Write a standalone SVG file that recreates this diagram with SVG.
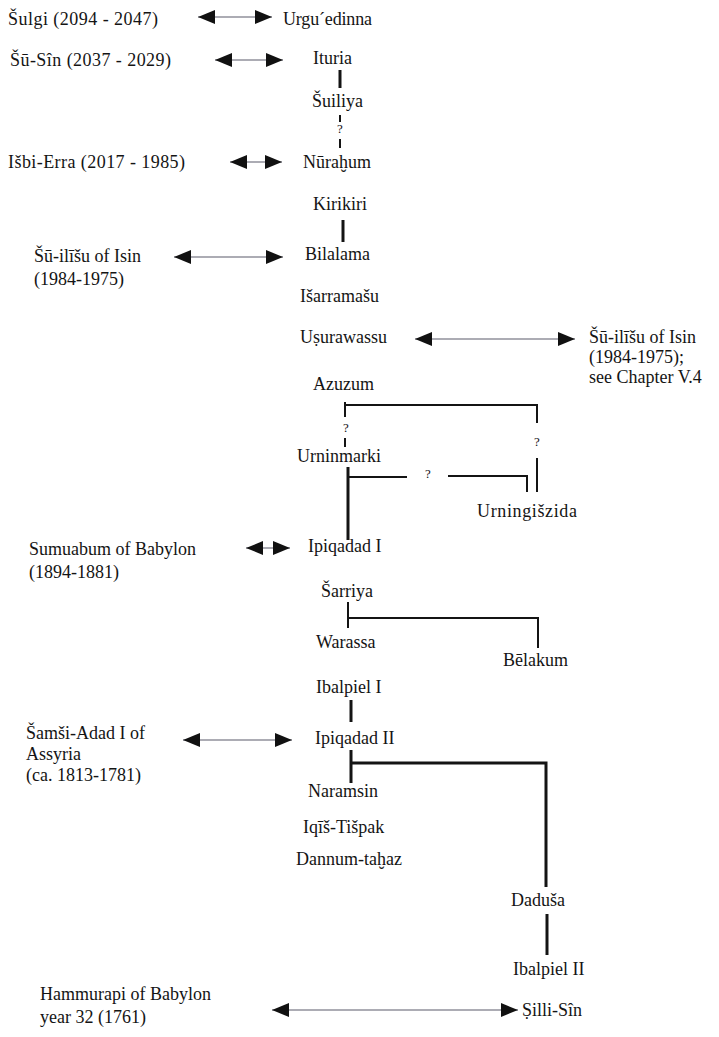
<svg xmlns="http://www.w3.org/2000/svg" width="719" height="1037" viewBox="0 0 719 1037">
<style>
text{font-family:"Liberation Serif","Times New Roman",serif;font-size:18px;fill:#141414}
.q{font-size:13px;text-anchor:middle}
.ln{stroke:#141414;fill:none}
.th{stroke-width:3}
.md{stroke-width:2}
.ar{stroke:#5a5a6a;stroke-width:1.2;fill:none;marker-start:url(#ah);marker-end:url(#ah)}
</style>
<defs>
<marker id="ah" markerUnits="userSpaceOnUse" markerWidth="18" markerHeight="14" refX="17" refY="7" orient="auto-start-reverse"><path d="M0,0 L17,7 L0,14 Z" fill="#111"/></marker>
</defs>
<rect width="719" height="1037" fill="#fff"/>
<g id="connectors">
<line class="ar" x1="198" y1="17" x2="272" y2="17"/>
<line class="ar" x1="215" y1="60" x2="283" y2="60"/>
<line class="ar" x1="230" y1="162" x2="282" y2="162"/>
<line class="ar" x1="174" y1="257" x2="283" y2="257"/>
<line class="ar" x1="415" y1="339" x2="575" y2="339"/>
<line class="ar" x1="246" y1="548" x2="290" y2="548"/>
<line class="ar" x1="183" y1="740" x2="292" y2="740"/>
<line class="ar" x1="272" y1="1010" x2="518" y2="1010"/>
<path class="ln th" d="M340,70 V88"/>
<path class="ln md" d="M340,115 V122 M340,139 V148"/>
<text class="q" x="340" y="133">?</text>
<path class="ln th" d="M343,220 V242"/>
<path class="ln md" d="M345,402 V417 M345,405 H537 V423"/>
<text class="q" x="346" y="432">?</text>
<path class="ln md" d="M345,438 V447"/>
<text class="q" x="537" y="446">?</text>
<path class="ln md" d="M537,458 V492"/>
<path class="ln th" d="M348,467 V540"/>
<path class="ln md" d="M348,477 H407 M448,476 H527 V492"/>
<text class="q" x="428" y="478">?</text>
<path class="ln md" d="M348,602 V628 M348,618 H538 V648"/>
<path class="ln th" d="M351,700 V722"/>
<path class="ln th" d="M351,750 V783 M351,763 H546 V887"/>
<path class="ln th" d="M547,914 V955"/>
</g>
<g id="n-sulgi"><text x="8" y="25" textLength="150">Šulgi (2094 - 2047)</text></g>
<g id="n-urguedinna"><text x="283" y="25" textLength="89">Urgu´edinna</text></g>
<g id="n-susin"><text x="10" y="66" textLength="161">Šū-Sîn (2037 - 2029)</text></g>
<g id="n-ituria"><text x="313" y="64">Ituria</text></g>
<g id="n-suiliya"><text x="312" y="107">Šuiliya</text></g>
<g id="n-isbierra"><text x="8" y="168" textLength="177">Išbi-Erra (2017 - 1985)</text></g>
<g id="n-nurahum"><text x="303" y="168">Nūraḫum</text></g>
<g id="n-kirikiri"><text x="313" y="210">Kirikiri</text></g>
<g id="n-bilalama"><text x="305" y="260">Bilalama</text></g>
<g id="n-suilisu1"><text x="34" y="262">Šū-ilīšu of Isin</text><text x="34" y="285">(1984-1975)</text></g>
<g id="n-isarramasu"><text x="300" y="302">Išarramašu</text></g>
<g id="n-usurawassu"><text x="300" y="343">Uṣurawassu</text></g>
<g id="n-suilisu2"><text x="589" y="343">Šū-ilīšu of Isin</text><text x="589" y="363">(1984-1975);</text><text x="589" y="383">see Chapter V.4</text></g>
<g id="n-azuzum"><text x="313" y="390">Azuzum</text></g>
<g id="n-urninmarki"><text x="297" y="462">Urninmarki</text></g>
<g id="n-urningiszida"><text x="477" y="517" textLength="100">Urningišzida</text></g>
<g id="n-ipiqadad1"><text x="308" y="552">Ipiqadad I</text></g>
<g id="n-sumuabum"><text x="29" y="555">Sumuabum of Babylon</text><text x="29" y="578">(1894-1881)</text></g>
<g id="n-sarriya"><text x="321" y="597">Šarriya</text></g>
<g id="n-warassa"><text x="316" y="648">Warassa</text></g>
<g id="n-belakum"><text x="503" y="666">Bēlakum</text></g>
<g id="n-ibalpiel1"><text x="316" y="693">Ibalpiel I</text></g>
<g id="n-ipiqadad2"><text x="315" y="744">Ipiqadad II</text></g>
<g id="n-samsiadad"><text x="26" y="739">Šamši-Adad I of</text><text x="26" y="760">Assyria</text><text x="26" y="781">(ca. 1813-1781)</text></g>
<g id="n-naramsin"><text x="308" y="797">Naramsin</text></g>
<g id="n-iqistispak"><text x="303" y="833">Iqīš-Tišpak</text></g>
<g id="n-dannumtahaz"><text x="296" y="865">Dannum-taḫaz</text></g>
<g id="n-dadusa"><text x="511" y="906">Daduša</text></g>
<g id="n-ibalpiel2"><text x="513" y="975">Ibalpiel II</text></g>
<g id="n-hammurapi"><text x="40" y="1000">Hammurapi of Babylon</text><text x="40" y="1023">year 32 (1761)</text></g>
<g id="n-sillisin"><text x="522" y="1016">Ṣilli-Sîn</text></g>
</svg>
